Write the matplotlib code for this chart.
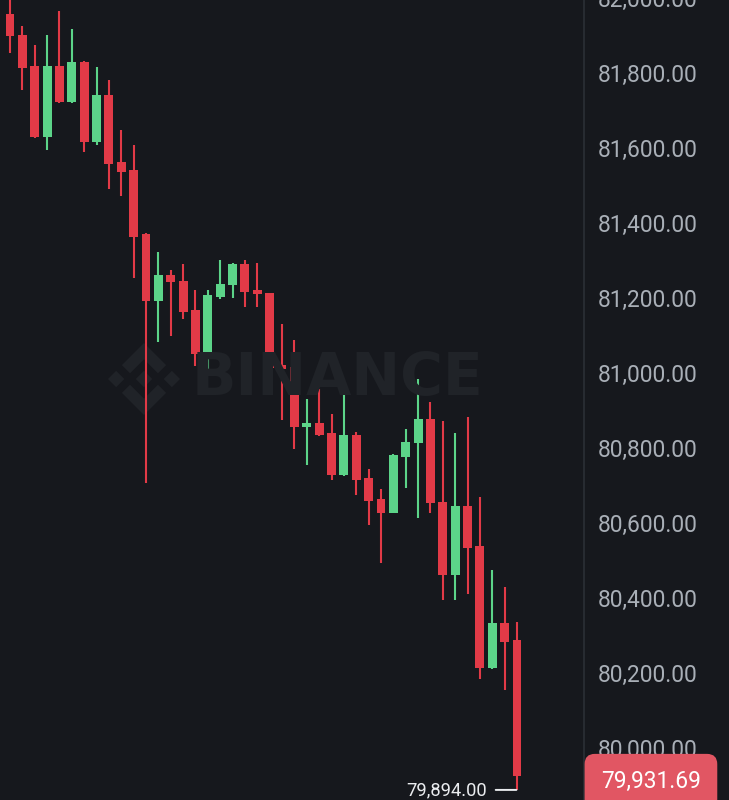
import matplotlib
matplotlib.use("Agg")
import matplotlib.pyplot as plt
import matplotlib.transforms as mtransforms
from matplotlib.patches import Polygon
import numpy as np

# ---- data (BTC/USDT candles) ----
opens  = [81962, 81906, 81824, 81635, 81824, 81728, 81835, 81622, 81747, 81569,
          81547, 81375, 81197, 81268, 81252, 81173, 81056, 81207, 81239, 81295,
          81226, 81218, 81026, 81021, 80862, 80872, 80846, 80734, 80840, 80726,
          80670, 80633, 80782, 80819, 80883, 80662, 80466, 80652, 80543, 80218,
          80338, 80293]
highs  = [82007, 81930, 81880, 81906, 81970, 81922, 81837, 81821, 81787, 81654,
          81614, 81378, 81329, 81279, 81295, 81226, 81226, 81306, 81298, 81306,
          81300, 81220, 81135, 81093, 80936, 80963, 80896, 80963, 80848, 80750,
          80697, 80789, 80856, 80990, 80928, 80878, 80846, 80888, 80676, 80479,
          80436, 80341]
lows   = [81858, 81760, 81633, 81601, 81726, 81726, 81595, 81614, 81497, 81478,
          81258, 80713, 81088, 81104, 81149, 81024, 81000, 81202, 81205, 81181,
          81181, 81011, 80880, 80803, 80761, 80838, 80721, 80732, 80681, 80601,
          80498, 80631, 80700, 80620, 80633, 80399, 80399, 80415, 80189, 80216,
          80160, 79894.00]
closes = [81904, 81819, 81635, 81824, 81728, 81835, 81622, 81747, 81563, 81542,
          81369, 81197, 81268, 81247, 81167, 81056, 81213, 81242, 81295, 81221,
          81215, 81019, 81016, 80862, 80872, 80840, 80734, 80840, 80721, 80665,
          80633, 80787, 80822, 80883, 80660, 80466, 80652, 80540, 80218, 80338,
          80288, 79931.69]
price_ticks = [80000, 80200, 80400, 80600, 80800, 81000, 81200, 81400, 81600, 81800, 82000]
last_price = closes[-1]
low_price = lows[-1]

BG = "#16181d"
RED = "#e23a47"
GREEN = "#5cd489"
TICK_COLOR = "#a9afb7"

fig = plt.figure(figsize=(7.29, 8.0), dpi=100, facecolor=BG)
ax = fig.add_axes([0, 0, 584 / 729, 1.0])
ax.set_facecolor(BG)

n = len(opens)
x = np.arange(n)
o = np.array(opens, float); c = np.array(closes, float)
h = np.array(highs, float); l = np.array(lows, float)
up = c >= o
colors = [GREEN if u else RED for u in up]

ax.vlines(x, l, h, colors=colors, linewidth=1.5, zorder=2)
body_bottom = np.minimum(o, c)
body_h = np.maximum(np.abs(c - o), 6)
ax.bar(x, body_h, bottom=body_bottom, width=0.72, color=colors, linewidth=0, zorder=3)

ax.set_xlim(-0.809, 46.42)
ax.set_ylim(79867.1, 81994.1)

# axis styling
for side in ["top", "left", "bottom"]:
    ax.spines[side].set_visible(False)
ax.spines["right"].set_color("#2b2f36")
ax.spines["right"].set_linewidth(1.2)
ax.set_xticks([])
ax.yaxis.tick_right()
ax.set_yticks(price_ticks)
ax.set_yticklabels([f"{p:,.2f}" for p in price_ticks])
ax.tick_params(axis="y", length=0, pad=10, labelsize=16.4, labelcolor=TICK_COLOR)
for lab in ax.get_yticklabels():
    lab.set_fontfamily("Roboto")
    lab.set_verticalalignment("center")

# last price tag
ax.text(1.0 + 17 / 584, last_price - 16, f"{last_price:,.2f}",
        transform=mtransforms.blended_transform_factory(ax.transAxes, ax.transData),
        ha="left", va="center", fontsize=16.4, family="Roboto", color="white",
        clip_on=False, zorder=10,
        bbox=dict(boxstyle="round,pad=0.72,rounding_size=0.45", fc="#e15663", ec="none"))

# lowest price marker
ax.annotate(f"{low_price:,.2f}", xy=(n - 1 - 0.05, low_price), xytext=(-29, 0),
            textcoords="offset pixels", ha="right", va="center",
            fontsize=13.2, family="Roboto", color="#eaecef", zorder=10,
            annotation_clip=False,
            arrowprops=dict(arrowstyle="-", color="#eaecef", lw=1.4, shrinkA=4, shrinkB=0))

# watermark
WM = "#202328"
fig.text(192 / 729, 1 - 379 / 800, "BINANCE", fontsize=42, fontweight="bold",
         family="DejaVu Sans", color=WM, va="center", ha="left", zorder=0.5)
logo_polys = [
    [(38.73, 53.2), (63.3, 28.63), (87.89, 53.22), (102.19, 38.92), (63.3, 0), (24.42, 38.9)],
    [(0, 63.31), (14.3, 49.01), (28.6, 63.31), (14.3, 77.61)],
    [(38.73, 73.41), (63.3, 97.98), (87.89, 73.4), (102.2, 87.69), (63.3, 126.61), (24.42, 87.7)],
    [(98.01, 63.31), (112.31, 49.01), (126.61, 63.31), (112.31, 77.61)],
    [(77.81, 63.3), (63.31, 48.8), (48.82, 63.29), (63.31, 77.78)],
]
k = 72 / 126.61
logo_tr = mtransforms.Affine2D().scale(k, -k).translate(108, 800 - 343)
for pts in logo_polys:
    ax.add_patch(Polygon(pts, closed=True, fc=WM, ec="none",
                         transform=logo_tr, zorder=0.5, clip_on=False))

fig.savefig("out.png", dpi=100, facecolor=BG)
